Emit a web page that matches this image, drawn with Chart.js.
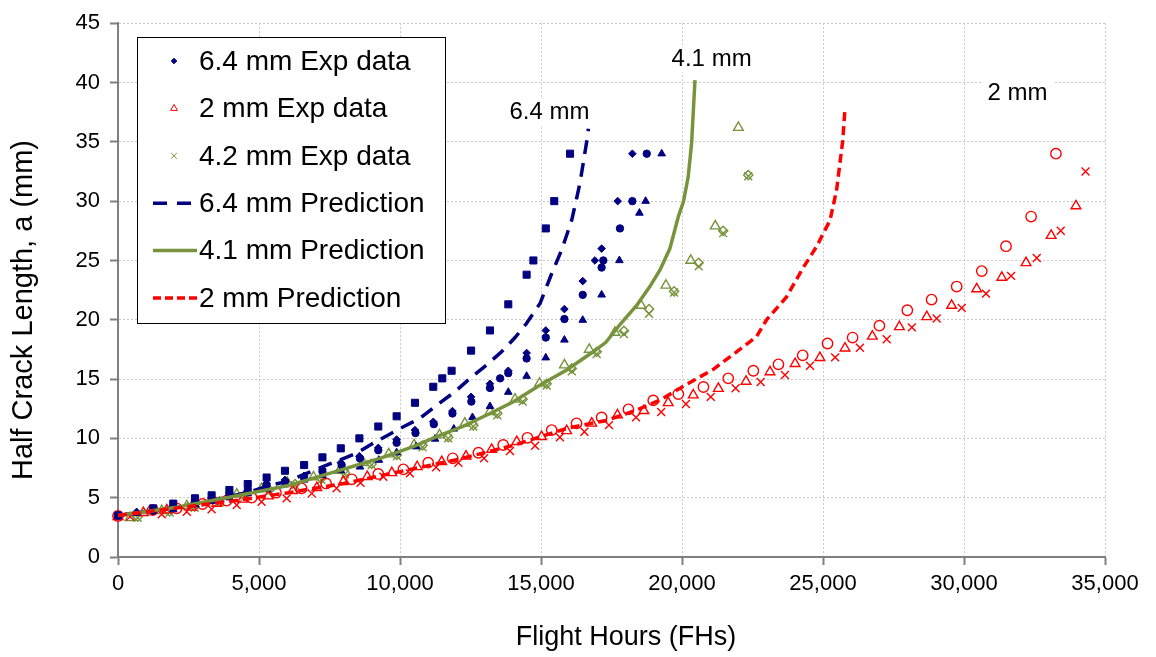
<!DOCTYPE html>
<html>
<head>
<meta charset="utf-8">
<title>Half crack length vs flight hours</title>
<script src="https://cdn.jsdelivr.net/npm/chart.js"></script>
<style>
  body { margin: 0; background: #fff; }
</style>
</head>
<body>
<canvas id="crackChart" width="1156" height="657"></canvas>

<script>
// ---- data (flight hours, half crack length mm) ----

// 6.4 mm specimens (navy)
const bSqX = [0, 1250, 1960, 2730, 3320, 3950, 4600, 5270, 5920, 6600, 7250, 7900, 8560, 9230, 9880, 10530, 11180, 11500, 11830, 12520, 13190, 13840, 14490, 14730, 15170, 15470, 16030];
const bSqY = [3.5, 4.1, 4.5, 4.95, 5.2, 5.65, 6.15, 6.7, 7.27, 7.75, 8.4, 9.16, 10.0, 11.0, 11.86, 13.0, 14.35, 15.06, 15.7, 17.4, 19.1, 21.3, 23.8, 25.0, 27.7, 30.0, 34.0];

const bCiX = [0, 1250, 1960, 2730, 3320, 3950, 4600, 5270, 5920, 6600, 7250, 7930, 8580, 9230, 9880, 10550, 11200, 11860, 12530, 13190, 13550, 13840, 14490, 15170, 15830, 16480, 17150, 17210, 17800, 18240, 18750];
const bCiY = [3.5, 3.9, 4.2, 4.6, 4.9, 5.25, 5.6, 6.05, 6.35, 6.65, 7.2, 7.75, 8.3, 9.0, 9.63, 10.45, 11.2, 12.1, 13.1, 14.25, 15.06, 15.5, 16.74, 18.5, 20.06, 22.1, 24.4, 25.0, 27.7, 30.0, 34.0];

const bDiX = [0, 660, 1960, 2730, 3320, 3950, 4600, 5270, 5920, 6600, 7250, 7900, 8560, 9230, 9880, 10530, 11180, 11860, 12520, 13190, 13840, 14490, 15170, 15830, 16480, 16910, 17150, 17720, 18240];
const bDiY = [3.5, 3.8, 4.3, 4.75, 5.0, 5.4, 5.75, 6.2, 6.5, 6.85, 7.4, 7.95, 8.5, 9.2, 9.9, 10.7, 11.4, 12.3, 13.5, 14.6, 15.7, 17.2, 19.1, 20.9, 23.26, 25.0, 26.0, 30.0, 34.0];

const bTrX = [0, 660, 1960, 2730, 3320, 3950, 4600, 5270, 5920, 6600, 7250, 7900, 8580, 9250, 9880, 10570, 11240, 11910, 12570, 13190, 13840, 14490, 15170, 15830, 16480, 17150, 17780, 18490, 18710, 19280];
const bTrY = [3.5, 3.7, 4.0, 4.4, 4.7, 5.0, 5.35, 5.7, 6.1, 6.5, 6.9, 7.3, 7.6, 8.17, 8.8, 9.3, 9.95, 10.8, 11.77, 12.7, 13.9, 15.25, 16.8, 18.3, 19.97, 22.1, 25.0, 29.0, 30.0, 34.0];

// 2 mm specimens (red)
const rCiX = [0, 1230, 2080, 3000, 3850, 4740, 5600, 6510, 7380, 8290, 9230, 10120, 11000, 11870, 12780, 13660, 14520, 15380, 16260, 17150, 18100, 18980, 19870, 20760, 21640, 22530, 23420, 24280, 25160, 26050, 27000, 27990, 28850, 29740, 30630, 31490, 32380, 33260];
const rCiY = [3.46, 3.96, 4.1, 4.47, 4.75, 5.0, 5.42, 5.79, 6.2, 6.55, 7.0, 7.39, 7.95, 8.32, 8.79, 9.44, 10.05, 10.7, 11.27, 11.77, 12.45, 13.2, 13.74, 14.33, 15.06, 15.7, 16.24, 17.0, 18.0, 18.5, 19.5, 20.8, 21.7, 22.8, 24.1, 26.2, 28.7, 34.0];

const rTrX = [0, 900, 1730, 2610, 3500, 4420, 5330, 6190, 7050, 7990, 8840, 9710, 10610, 11480, 12340, 13250, 14140, 15020, 15910, 16800, 17710, 18650, 19510, 20400, 21290, 22270, 23120, 24010, 24890, 25780, 26750, 27710, 28680, 29560, 30450, 31340, 32200, 33090, 33970];
const rTrY = [3.4, 3.73, 3.96, 4.19, 4.52, 4.86, 5.14, 5.59, 5.84, 6.35, 6.77, 7.1, 7.6, 8.03, 8.5, 9.07, 9.72, 10.14, 10.64, 11.27, 11.97, 12.33, 13.0, 13.65, 14.2, 14.8, 15.6, 16.3, 16.8, 17.6, 18.6, 19.4, 20.25, 21.2, 22.6, 23.57, 24.8, 27.1, 29.6];

const rXX = [430, 1550, 2440, 3320, 4210, 5090, 5980, 6870, 7750, 8600, 9410, 10350, 11280, 12070, 12980, 13900, 14790, 15670, 16540, 17410, 18370, 19260, 20140, 21020, 21900, 22790, 23650, 24540, 25430, 26310, 27260, 28150, 29030, 29920, 30780, 31670, 32580, 33430, 34310];
const rXY = [3.4, 3.6, 3.82, 4.02, 4.38, 4.66, 4.94, 5.36, 5.79, 6.25, 6.77, 7.05, 7.56, 7.95, 8.32, 8.93, 9.38, 10.09, 10.56, 11.12, 11.77, 12.22, 12.9, 13.5, 14.22, 14.75, 15.34, 16.12, 16.83, 17.64, 18.35, 19.36, 20.1, 21.0, 22.2, 23.7, 25.2, 27.5, 32.5];

// 4.2 mm specimens (olive)
const gTrX = [425, 1550, 2440, 3320, 4210, 5090, 6000, 6930, 7850, 8700, 9600, 10500, 11400, 12300, 13190, 14080, 14950, 15830, 16710, 17620, 18550, 19430, 20310, 21180, 22000];
const gTrY = [3.3, 3.9, 4.3, 4.8, 5.3, 5.75, 6.3, 6.75, 7.3, 7.95, 8.68, 9.44, 10.28, 11.27, 12.25, 13.29, 14.64, 16.18, 17.5, 18.93, 21.2, 22.9, 25.0, 27.9, 36.2];

const gXX = [700, 1830, 2720, 3600, 4490, 5370, 6280, 7210, 8050, 8995, 9890, 10800, 11710, 12600, 13450, 14350, 15200, 16090, 16975, 17940, 18830, 19720, 20590, 21460, 22350];
const gXY = [3.3, 3.75, 4.15, 4.6, 5.1, 5.55, 6.05, 6.5, 7.0, 7.75, 8.5, 9.25, 10.0, 11.0, 11.95, 13.1, 14.45, 15.65, 17.1, 18.8, 20.5, 22.3, 24.5, 27.3, 32.1];
const gDiY = [3.4, 3.85, 4.25, 4.7, 5.2, 5.65, 6.15, 6.6, 7.1, 7.85, 8.6, 9.4, 10.1, 11.1, 12.1, 13.3, 14.6, 15.9, 17.3, 19.07, 20.9, 22.4, 24.8, 27.5, 32.2];

// predictions
const bPredX = [0, 2080, 3260, 4680, 5390, 5980, 6690, 7400, 7990, 8500, 8940, 9470, 10120, 10710, 11300, 11950, 12480, 13070, 13600, 14080, 14490, 14970, 15380, 15730, 16090, 16380, 16620, 16680];
const bPredY = [3.5, 4.2, 4.7, 5.5, 6.05, 6.35, 7.05, 7.75, 8.3, 8.8, 9.44, 10.14, 10.98, 11.69, 12.8, 13.93, 15.06, 16.18, 17.3, 18.5, 19.7, 21.4, 23.9, 25.87, 28.4, 31.5, 35.0, 36.1];

const gPredX = [0, 2080, 4090, 6000, 7500, 8700, 9290, 10470, 11300, 12250, 13190, 14020, 14970, 15910, 16850, 17300, 17800, 18390, 18860, 19220, 19570, 19870, 20050, 20220, 20340, 20460];
const gPredY = [3.5, 4.2, 5.1, 6.0, 7.05, 7.9, 8.32, 9.3, 10.14, 11.04, 12.1, 13.09, 14.5, 15.76, 17.3, 18.1, 19.6, 21.2, 22.8, 24.2, 26.0, 28.7, 29.94, 32.05, 34.86, 40.2];

const rPredX = [0, 2000, 4000, 6000, 8000, 10000, 12000, 14000, 16000, 17300, 18300, 19200, 20200, 21100, 22050, 22650, 23000, 23700, 24300, 24780, 25250, 25480, 25700, 25780];
const rPredY = [3.5, 4.1, 4.7, 5.4, 6.2, 7.2, 8.2, 9.4, 10.9, 11.5, 12.3, 13.2, 14.6, 15.8, 17.5, 18.6, 20.0, 21.9, 24.4, 26.2, 28.4, 30.9, 35.1, 37.8];

// curve labels
const curveLabels = ['6.4 mm', '4.1 mm', '2 mm'];
const curveLabelX = [15300, 21050, 31900];
const curveLabelY = [37.6, 42.0, 39.2];

const xTitle = 'Flight Hours (FHs)';
const yTitle = 'Half Crack Length, a (mm)';

const NAVY = '#000080';
const RED = '#FF0000';
const OLIVE = '#77933C';
const FONT = 'Arial, "Liberation Sans", sans-serif';

function pts(xs, ys) {
  return xs.map((x, i) => ({ x: x, y: ys[i] }));
}

function markers(xs, ys, style, color, radius, filled, extra) {
  return Object.assign({
    data: pts(xs, ys),
    pointStyle: style,
    pointRadius: radius,
    pointHoverRadius: radius,
    pointBackgroundColor: filled ? color : 'rgba(0,0,0,0)',
    pointBorderColor: color,
    pointBorderWidth: filled ? 1 : 1.4,
    borderColor: color,
    backgroundColor: color,
    showLine: false,
    clip: 10
  }, extra || {});
}

function curve(xs, ys, color, dash, extra) {
  return Object.assign({
    data: pts(xs, ys),
    showLine: true,
    borderColor: color,
    backgroundColor: color,
    borderWidth: 3.5,
    borderDash: dash,
    pointRadius: 0,
    pointHoverRadius: 0,
    tension: 0,
    fill: false,
    clip: 10
  }, extra || {});
}

// legend drawn in a framed box inside the plot, like the original
const boxLegend = {
  id: 'boxLegend',
  afterDraw(chart) {
    const ctx = chart.ctx;
    ctx.save();
    ctx.fillStyle = '#fff';
    ctx.fillRect(137.5, 37.5, 308, 286);
    ctx.strokeStyle = '#000';
    ctx.lineWidth = 1;
    ctx.strokeRect(137.5, 37.5, 308, 286);
    ctx.font = '28px ' + FONT;
    ctx.textBaseline = 'middle';
    ctx.textAlign = 'left';
    chart.data.datasets.forEach(ds => {
      if (ds.legendRow === undefined) return;
      const y = 61 + ds.legendRow * 47.4;
      if (ds.showLine) {
        ctx.strokeStyle = ds.borderColor;
        ctx.lineWidth = 3.5;
        ctx.setLineDash(ds.legendDash || []);
        ctx.beginPath();
        ctx.moveTo(153, y);
        ctx.lineTo(197, y);
        ctx.stroke();
        ctx.setLineDash([]);
      } else {
        ctx.fillStyle = ds.pointBackgroundColor;
        ctx.strokeStyle = ds.pointBorderColor;
        ctx.lineWidth = 1;
        Chart.helpers.drawPoint(ctx, { pointStyle: ds.pointStyle, radius: ds.legendRadius, borderWidth: 1, rotation: 0 }, 174, y);
      }
      ctx.fillStyle = '#000';
      ctx.fillText(ds.label, 199, y + 1);
    });
    ctx.restore();
  }
};

// curve names with white backing, plus the two axis titles
const chartText = {
  id: 'chartText',
  afterDatasetsDraw(chart) {
    const ctx = chart.ctx;
    const xs = chart.scales.x, ys = chart.scales.y;
    ctx.save();
    ctx.font = '24px ' + FONT;
    ctx.textAlign = 'center';
    ctx.textBaseline = 'middle';
    curveLabels.forEach((t, i) => {
      const px = xs.getPixelForValue(curveLabelX[i]);
      const py = ys.getPixelForValue(curveLabelY[i]);
      const w = ctx.measureText(t).width + 12;
      ctx.fillStyle = '#fff';
      ctx.fillRect(px - w / 2, py - 14, w, 28);
      ctx.fillStyle = '#000';
      ctx.fillText(t, px, py + 1);
    });

    ctx.font = '27px ' + FONT;
    ctx.fillText(xTitle, 626, 638);
    ctx.font = '29px ' + FONT;
    ctx.translate(24, 310);
    ctx.rotate(-Math.PI / 2);
    ctx.fillText(yTitle, 0, 0);
    ctx.restore();
  }
};

const datasets = [
  curve(rPredX, rPredY, RED, [9, 5], { label: '2 mm Prediction', legendRow: 5, legendDash: [8, 4] }),
  curve(gPredX, gPredY, OLIVE, [], { label: '4.1 mm Prediction', legendRow: 4 }),
  curve(bPredX, bPredY, NAVY, [14, 9], { label: '6.4 mm Prediction', legendRow: 3, legendDash: [14, 10] }),

  markers(bSqX, bSqY, 'rect', NAVY, 5, true, { label: '6.4 mm square' }),
  markers(bCiX, bCiY, 'circle', NAVY, 3.7, true, { label: '6.4 mm circle' }),
  markers(bTrX, bTrY, 'triangle', NAVY, 4.4, true, { label: '6.4 mm triangle' }),
  markers(bDiX, bDiY, 'rectRot', NAVY, 3.8, true, { label: '6.4 mm Exp data', legendRow: 0, legendRadius: 2.8 }),

  markers(rCiX, rCiY, 'circle', RED, 5.2, false, { label: '2 mm circle' }),
  markers(rXX, rXY, 'crossRot', RED, 5.6, false, { label: '2 mm cross' }),
  markers(rTrX, rTrY, 'triangle', RED, 5.6, false, { label: '2 mm Exp data', legendRow: 1, legendRadius: 4 }),

  markers(gTrX, gTrY, 'triangle', OLIVE, 5.6, false, { label: '4.2 mm triangle' }),
  markers(gXX, gDiY, 'rectRot', OLIVE, 4.6, false, { label: '4.2 mm diamond' }),
  markers(gXX, gXY, 'crossRot', OLIVE, 5.6, false, { label: '4.2 mm Exp data', legendRow: 2, legendRadius: 4 })
];

new Chart(document.getElementById('crackChart'), {
  type: 'scatter',
  data: { datasets: datasets },
  options: {
    responsive: false,
    animation: false,
    layout: { padding: { top: 23, right: 51, left: 0, bottom: 0 } },
    plugins: {
      legend: { display: false },
      tooltip: { enabled: false }
    },
    scales: {
      x: {
        type: 'linear',
        min: 0,
        max: 35000,
        afterFit(scale) { scale.height = 100; },
        ticks: {
          stepSize: 5000,
          color: '#000',
          padding: 6,
          font: { family: FONT, size: 22 },
          callback: v => v.toLocaleString('en-US')
        },
        grid: {
          color: '#c8c8c8',
          lineWidth: 1,
          tickLength: 8,
          tickColor: '#808080',
          tickWidth: 2
        },
        border: { display: true, color: '#808080', width: 2, dash: [2, 2] }
      },
      y: {
        type: 'linear',
        min: 0,
        max: 45,
        afterFit(scale) { scale.width = 118; },
        ticks: {
          stepSize: 5,
          color: '#000',
          padding: 10,
          font: { family: FONT, size: 22 }
        },
        grid: {
          color: '#c8c8c8',
          lineWidth: 1,
          tickLength: 8,
          tickColor: '#808080',
          tickWidth: 2
        },
        border: { display: true, color: '#808080', width: 2, dash: [2, 2] }
      }
    }
  },
  plugins: [chartText, boxLegend]
});
</script>
</body>
</html>
